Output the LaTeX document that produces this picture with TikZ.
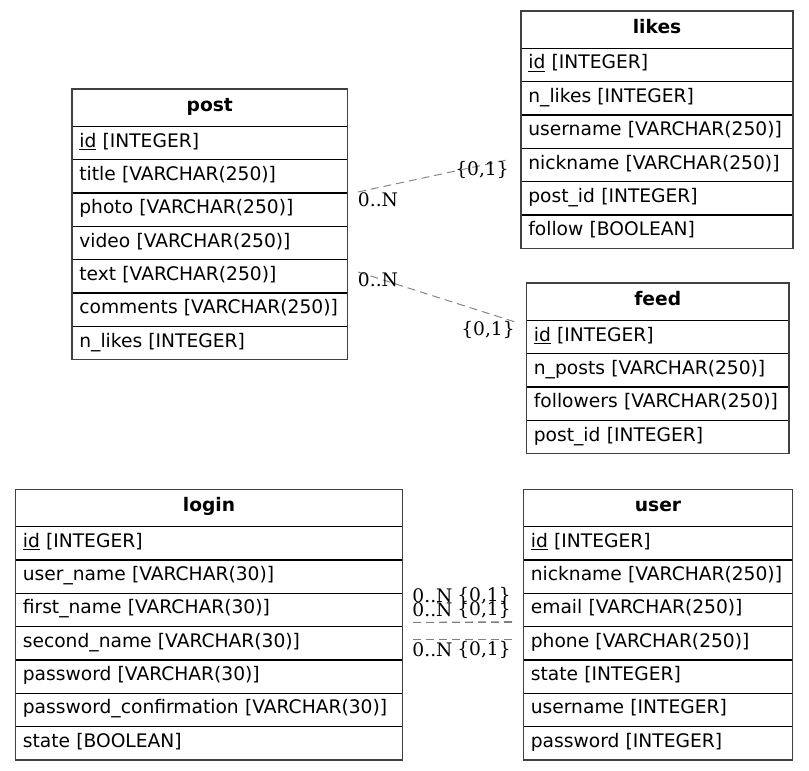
\documentclass[tikz,border=0pt]{standalone}
\usepackage{fontspec}
\setmainfont{DejaVu Serif}
\setsansfont{DejaVu Sans}
\usetikzlibrary{positioning,calc}

\begin{document}
\begin{tikzpicture}[x=0.75pt, y=-0.75pt,
    cell/.style={draw, line width=0.8pt, outer sep=0pt, inner xsep=5.5pt,
      inner ysep=0pt, text height=10pt, text depth=4pt, align=left,
      font=\sffamily\fontsize{14}{17}\selectfont},
    hdr/.style={cell, minimum height=28pt, align=center,
      font=\sffamily\bfseries\fontsize{14}{17}\selectfont},
    fieldrow/.style={cell, minimum height=25pt},
    frame/.style={draw=black!75, line width=1.2pt},
    rel/.style={draw=gray, line width=0.7pt, dash pattern=on 6pt off 3.75pt},
    card/.style={inner sep=0pt, font=\fontsize{14}{17}\selectfont}]
  \newcommand{\ertable}[4]{% name, top left, width, fields
    \pgfmathsetlengthmacro{\tw}{#3*0.75pt-11pt}
    \node[hdr, text width=\tw, anchor=north west] (#1-0) at (#2) {#1};
    \foreach \f [count=\i, remember=\i as \j (initially 0)] in {#4} {
      \node[fieldrow, text width=\tw, below=0pt of #1-\j] (#1-\i) {\f};
      \xdef\lastrow{\i}
    }
    \draw[frame] (#1-0.north west) rectangle (#1-\lastrow.south east);
  }
  \useasboundingbox (0,0) rectangle (809,770);

  \ertable{post}{72,89}{275.5}{\underline{id} [INTEGER], title [VARCHAR(250)],
    photo [VARCHAR(250)], video [VARCHAR(250)], text [VARCHAR(250)],
    comments [VARCHAR(250)], n\_likes [INTEGER]}
  \ertable{likes}{521,11}{272}{\underline{id} [INTEGER], n\_likes [INTEGER],
    username [VARCHAR(250)], nickname [VARCHAR(250)], post\_id [INTEGER],
    follow [BOOLEAN]}
  \ertable{feed}{526.5,283}{262.5}{\underline{id} [INTEGER], n\_posts [VARCHAR(250)],
    followers [VARCHAR(250)], post\_id [INTEGER]}
  \ertable{login}{15.5,489.3}{387}{\underline{id} [INTEGER], user\_name [VARCHAR(30)],
    first\_name [VARCHAR(30)], second\_name [VARCHAR(30)], password [VARCHAR(30)],
    password\_confirmation [VARCHAR(30)], state [BOOLEAN]}
  \ertable{user}{523.5,489.3}{269}{\underline{id} [INTEGER], nickname [VARCHAR(250)],
    email [VARCHAR(250)], phone [VARCHAR(250)], state [INTEGER],
    username [INTEGER], password [INTEGER]}

  % relations
  \coordinate (pl-a) at ($(post-3.north east)+(10.5,-1)$);
  \coordinate (pl-b) at ($(likes-4.north west)+(-14,11.6)$);
  \draw[rel] (pl-a) -- (pl-b);
  \node[card] (pl-n) at (378,200) {0..N};
  \node[card] (pl-o) at (482,170) {\{0,1\}};

  \coordinate (pf-a) at ($(post-5.north east)+(10.5,12.3)$);
  \coordinate (pf-b) at ($(feed-1.north west)+(-11.5,1.6)$);
  \draw[rel] (pf-a) -- (pf-b);
  \node[card] (pf-n) at (378,280) {0..N};
  \node[card] (pf-o) at (488,330) {\{0,1\}};

  \coordinate (lu1-a) at ($(login-3.south east)+(10.5,-3.7)$);
  \coordinate (lu1-b) at ($(user-3.south west)+(-11.5,-3.7)$);
  \coordinate (lu2-a) at ($(login-3.south east)+(10.5,-4.2)$);
  \coordinate (lu2-b) at ($(user-3.south west)+(-11.5,-5)$);
  \coordinate (lu3-a) at ($(login-4.north east)+(10.5,13.3)$);
  \coordinate (lu3-b) at ($(user-4.north west)+(-11.5,13.3)$);
  \draw[rel] (lu1-a) -- (lu1-b);
  \draw[rel] (lu2-a) -- (lu2-b);
  \draw[rel] (lu3-a) -- (lu3-b);
  \node[card] (lu1-n) at (432.5,596) {0..N};
  \node[card] (lu1-o) at (484,596) {\{0,1\}};
  \node[card] (lu2-n) at (432.5,610) {0..N};
  \node[card] (lu2-o) at (484,610) {\{0,1\}};
  \node[card] (lu3-n) at (432.5,650) {0..N};
  \node[card] (lu3-o) at (484,650) {\{0,1\}};
\end{tikzpicture}
\end{document}
